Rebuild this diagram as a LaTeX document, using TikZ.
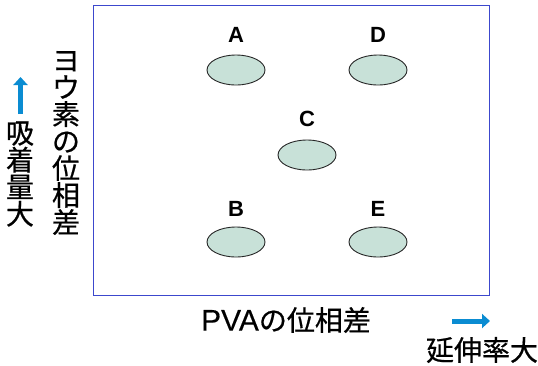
\documentclass[tikz,border=0pt]{standalone}
\usepackage{fontspec}
\setmainfont{Liberation Sans}
\newfontfamily\jpfont[FakeBold=0.6]{Noto Sans CJK JP}
\newfontfamily\latinfont[FakeBold=0.3]{Liberation Sans}
\usetikzlibrary{arrows.meta,shapes.geometric}
\definecolor{frameblue}{RGB}{60,72,205}
\definecolor{cellfill}{RGB}{200,225,216}
\definecolor{arrowblue}{RGB}{10,140,210}
\begin{document}
\begin{tikzpicture}[x=1pt,y=-1pt,
  blob/.style={ellipse,draw=black!85,line width=0.9pt,fill=cellfill,minimum width=58pt,minimum height=30pt,inner sep=0pt},
  tag/.style={font=\fontsize{22}{22}\selectfont\bfseries},
  jp/.style={font=\jpfont\fontsize{28}{27}\selectfont,inner sep=0pt},
  jpcol/.style={jp,align=center},
  hint/.style={draw=arrowblue,line width=5pt,-{Triangle[length=8pt,width=14pt]}}]
\useasboundingbox (0,0) rectangle (538,365);
% plot frame
\draw[frameblue,line width=1.2pt] (93.5,5.5) rectangle (489.5,295.5);
% samples
\node[blob] (a) at (236,70) {};
\node[blob] (d) at (378,70) {};
\node[blob] (c) at (307,155) {};
\node[blob] (b) at (236,242) {};
\node[blob] (e) at (378,242) {};
\node[tag] (la) at (236,35) {A};
\node[tag] (ld) at (378,35) {D};
\node[tag] (lc) at (307,119) {C};
\node[tag] (lb) at (236,209) {B};
\node[tag] (le) at (378,209) {E};
% axis captions
\node[jpcol] (ylab) at (66,143) {ヨ\\ウ\\素\\の\\位\\相\\差};
\node[jpcol] (yhint) at (20,174) {吸\\着\\量\\大};
\coordinate (ya0) at (20.5,114);
\coordinate (ya1) at (20.5,77);
\draw[hint] (ya0) -- (ya1);
\node[jp] (xlab) at (286,320) {{\latinfont\fontsize{30}{27}\selectfont PVA}の位相差};
\coordinate (xa0) at (452,321);
\coordinate (xa1) at (490,321);
\draw[hint] (xa0) -- (xa1);
\node[jp] (xhint) at (482,350) {延伸率大};
\end{tikzpicture}
\end{document}
